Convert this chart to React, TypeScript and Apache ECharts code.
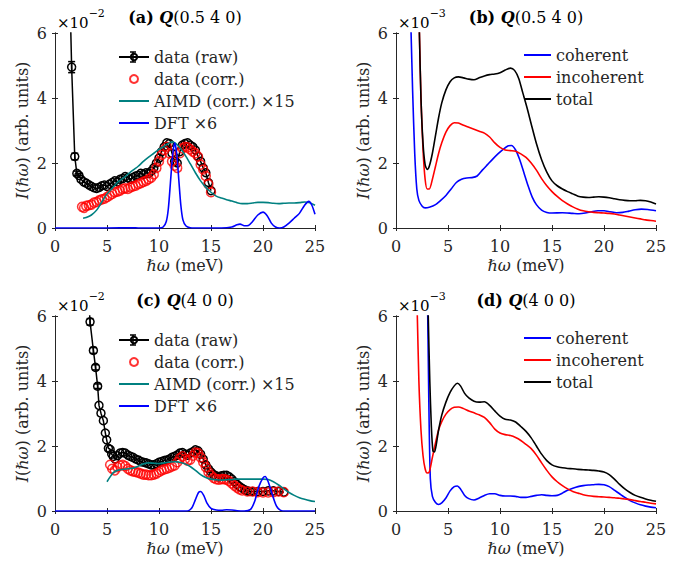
import React, { useEffect, useRef } from 'react';
import * as echarts from 'echarts';

type P = [number, number];

// ---------- Panel (a): Q(0.5 4 0), units x10^-2 ----------
const aRaw: P[] = [
  [1.3, 9.0], [1.6, 4.95], [1.9, 2.2], [2.1, 1.68], [2.3, 1.62], [2.5, 1.5], [2.75, 1.42], [3.0, 1.38],
  [3.25, 1.33], [3.5, 1.28], [3.75, 1.24], [4.0, 1.22], [4.25, 1.25], [4.5, 1.3], [4.75, 1.32], [5.0, 1.28],
  [5.25, 1.35], [5.5, 1.4], [5.75, 1.45], [6.0, 1.42], [6.25, 1.5], [6.5, 1.52], [6.75, 1.58], [7.0, 1.55],
  [7.25, 1.5], [7.5, 1.55], [7.75, 1.6], [8.0, 1.62], [8.25, 1.68], [8.5, 1.65], [8.75, 1.7], [9.0, 1.68],
  [9.25, 1.75], [9.5, 1.85], [9.75, 2.0], [10.0, 2.15], [10.25, 2.35], [10.5, 2.5], [10.75, 2.62], [11.0, 2.6],
  [11.25, 2.3], [11.5, 2.05], [11.75, 2.0], [12.0, 2.35], [12.25, 2.55], [12.5, 2.6], [12.75, 2.62], [13.0, 2.55],
  [13.25, 2.5], [13.5, 2.4], [13.75, 2.2], [14.0, 2.05], [14.25, 1.85], [14.5, 1.7], [14.75, 1.4], [15.0, 1.15],
];
const aRawErr = [0, 0.17, 0.1, 0.07, 0.06];
const aCorr: P[] = [
  [2.6, 0.65], [2.8, 0.62], [3.0, 0.68], [3.25, 0.7], [3.5, 0.72], [3.75, 0.78], [4.0, 0.8], [4.25, 0.85],
  [4.5, 0.88], [4.75, 0.9], [5.0, 0.95], [5.25, 1.0], [5.5, 1.05], [5.75, 1.1], [6.0, 1.12], [6.25, 1.15],
  [6.5, 1.2], [6.75, 1.22], [7.0, 1.2], [7.25, 1.25], [7.5, 1.28], [7.75, 1.3], [8.0, 1.35], [8.25, 1.38],
  [8.5, 1.42], [8.75, 1.45], [9.0, 1.5], [9.25, 1.55], [9.5, 1.65], [9.75, 1.85], [10.0, 2.05], [10.25, 2.25],
  [10.5, 2.4], [10.75, 2.5], [11.0, 2.3], [11.25, 2.05], [11.5, 1.92], [11.75, 1.85], [12.0, 2.3], [12.25, 2.45],
  [12.5, 2.5], [12.75, 2.48], [13.0, 2.42], [13.25, 2.35], [13.5, 2.3], [13.75, 2.2], [14.0, 1.95], [14.25, 1.8],
  [14.5, 1.6], [14.75, 1.35], [15.0, 1.1],
];
const aAimd: P[] = [
  [2.7, 0.3], [3.0, 0.32], [3.5, 0.4], [4.0, 0.55], [4.5, 0.8], [5.0, 1.05], [5.5, 1.22], [6.0, 1.4],
  [6.5, 1.52], [7.0, 1.65], [7.5, 1.78], [8.0, 1.9], [8.5, 2.05], [9.0, 2.18], [9.5, 2.3], [10.0, 2.42],
  [10.5, 2.52], [11.0, 2.62], [11.3, 2.65], [11.6, 2.6], [12.0, 2.48], [12.5, 2.25], [13.0, 1.98], [13.5, 1.7],
  [14.0, 1.45], [14.5, 1.25], [15.0, 1.1], [15.5, 0.98], [16.0, 0.92], [16.5, 0.87], [17.0, 0.83], [17.5, 0.78],
  [18.0, 0.75], [18.5, 0.75], [19.0, 0.77], [19.5, 0.79], [20.0, 0.79], [20.5, 0.78], [21.0, 0.76], [21.5, 0.75],
  [22.0, 0.76], [22.5, 0.77], [23.0, 0.77], [23.5, 0.78], [24.0, 0.8], [24.5, 0.78], [25.0, 0.7],
];
const aDft: P[] = [
  [0, 0], [5, 0], [7.5, 0.01], [8, 0], [10, 0], [10.4, 0.03], [10.7, 0.2], [10.9, 0.6], [11.1, 1.4],
  [11.3, 2.2], [11.5, 2.62], [11.7, 2.3], [11.9, 1.5], [12.1, 0.7], [12.3, 0.25], [12.6, 0.06], [13, 0.01],
  [14, 0], [16, 0], [17, 0.03], [17.5, 0.1], [17.8, 0.12], [18.2, 0.07], [18.6, 0.08], [19.0, 0.2],
  [19.5, 0.4], [20.0, 0.49], [20.4, 0.38], [20.8, 0.15], [21.2, 0.03], [21.6, 0.0], [22.0, 0.03], [22.5, 0.15],
  [23.0, 0.3], [23.5, 0.45], [24.0, 0.7], [24.4, 0.82], [24.7, 0.7], [25.0, 0.42],
];

// ---------- Panel (b): Q(0.5 4 0), units x10^-3 ----------
const bCoh: P[] = [
  [1.35, 7.0], [1.45, 6.0], [1.6, 4.2], [1.8, 2.3], [2.0, 1.2], [2.2, 0.85], [2.5, 0.68], [2.8, 0.62],
  [3.2, 0.64], [3.8, 0.72], [4.3, 0.85], [4.8, 1.0], [5.3, 1.2], [5.8, 1.4], [6.3, 1.5], [6.8, 1.54],
  [7.3, 1.55], [7.8, 1.6], [8.3, 1.78], [8.8, 1.95], [9.3, 2.12], [9.8, 2.28], [10.3, 2.42], [10.8, 2.53],
  [11.1, 2.54], [11.5, 2.4], [11.9, 2.1], [12.3, 1.7], [12.7, 1.3], [13.1, 0.95], [13.5, 0.72], [14.0, 0.55],
  [14.5, 0.48], [15.0, 0.46], [16.0, 0.47], [17.0, 0.45], [17.6, 0.44], [18.2, 0.46], [18.8, 0.5], [19.4, 0.53],
  [20.0, 0.53], [20.6, 0.5], [21.2, 0.47], [21.8, 0.48], [22.4, 0.52], [23.0, 0.56], [23.6, 0.58], [24.2, 0.57],
  [25.0, 0.53],
];
const bInc: P[] = [
  [2.15, 7.0], [2.25, 6.0], [2.4, 4.0], [2.6, 2.4], [2.8, 1.5], [3.0, 1.2], [3.2, 1.2], [3.5, 1.5],
  [3.8, 1.9], [4.1, 2.3], [4.4, 2.62], [4.8, 2.95], [5.2, 3.15], [5.6, 3.24], [6.0, 3.23], [6.5, 3.16],
  [7.0, 3.1], [7.5, 3.04], [8.0, 2.98], [8.5, 2.92], [9.0, 2.8], [9.5, 2.62], [10.0, 2.48], [10.5, 2.4],
  [11.0, 2.38], [11.5, 2.36], [12.0, 2.28], [12.5, 2.17], [13.0, 2.0], [13.5, 1.78], [14.0, 1.52], [14.5, 1.3],
  [15.0, 1.12], [15.5, 0.97], [16.0, 0.84], [16.5, 0.74], [17.0, 0.65], [17.5, 0.58], [18.0, 0.53], [18.5, 0.5],
  [19.0, 0.48], [19.5, 0.47], [20.0, 0.46], [20.5, 0.45], [21.0, 0.43], [21.5, 0.4], [22.0, 0.37], [22.5, 0.34],
  [23.0, 0.31], [23.5, 0.28], [24.0, 0.25], [24.5, 0.23], [25.0, 0.21],
];
const bTot: P[] = [
  [2.15, 8.0], [2.25, 6.0], [2.4, 4.0], [2.6, 2.6], [2.8, 1.95], [3.0, 1.8], [3.2, 1.9], [3.5, 2.3],
  [3.8, 2.85], [4.1, 3.4], [4.4, 3.85], [4.8, 4.25], [5.2, 4.5], [5.6, 4.62], [6.0, 4.65], [6.5, 4.62],
  [7.0, 4.58], [7.5, 4.56], [8.0, 4.62], [8.5, 4.68], [9.0, 4.72], [9.5, 4.74], [10.0, 4.78], [10.5, 4.86],
  [11.0, 4.92], [11.4, 4.85], [11.8, 4.6], [12.2, 4.15], [12.6, 3.7], [13.0, 3.2], [13.5, 2.6], [14.0, 2.1],
  [14.5, 1.72], [15.0, 1.45], [15.5, 1.3], [16.0, 1.2], [16.5, 1.12], [17.0, 1.05], [17.5, 0.98], [18.0, 0.95],
  [18.5, 0.94], [19.0, 0.95], [19.5, 0.96], [20.0, 0.95], [20.5, 0.93], [21.0, 0.9], [21.5, 0.87], [22.0, 0.85],
  [22.5, 0.84], [23.0, 0.84], [23.5, 0.85], [24.0, 0.84], [24.5, 0.8], [25.0, 0.74],
];

// ---------- Panel (c): Q(4 0 0), units x10^-2 ----------
const cRaw: P[] = [
  [3.2, 6.8], [3.37, 5.82], [3.69, 4.94], [3.9, 4.42], [4.1, 3.84], [4.23, 3.25], [4.42, 3.01], [4.65, 2.78],
  [4.84, 2.4], [4.97, 2.19], [5.13, 1.93], [5.3, 1.9], [5.45, 1.75], [5.6, 1.68], [5.77, 1.6], [6.0, 1.7],
  [6.25, 1.78], [6.5, 1.8], [6.75, 1.78], [7.0, 1.72], [7.25, 1.68], [7.5, 1.65], [7.75, 1.6], [8.0, 1.57],
  [8.25, 1.52], [8.5, 1.5], [8.75, 1.48], [9.0, 1.45], [9.25, 1.42], [9.5, 1.42], [9.75, 1.45], [10.0, 1.5],
  [10.25, 1.52], [10.5, 1.55], [10.75, 1.57], [11.0, 1.6], [11.25, 1.65], [11.5, 1.68], [11.75, 1.72], [12.0, 1.78],
  [12.25, 1.8], [12.5, 1.75], [12.75, 1.72], [13.0, 1.78], [13.25, 1.82], [13.5, 1.88], [13.75, 1.85], [14.0, 1.75],
  [14.25, 1.6], [14.5, 1.42], [14.75, 1.3], [15.0, 1.2], [15.25, 1.12], [15.5, 1.08], [15.75, 1.05], [16.0, 1.08],
  [16.25, 1.1], [16.5, 1.1], [16.75, 1.05], [17.0, 0.98], [17.25, 0.9], [17.5, 0.82], [17.75, 0.75], [18.0, 0.7],
  [18.25, 0.65], [18.5, 0.62], [18.75, 0.6], [19.0, 0.6], [19.5, 0.6], [20.0, 0.6], [20.5, 0.62], [21.0, 0.62],
  [21.5, 0.6], [22.0, 0.58],
];
const cRawErr = [0, 0.1, 0.09, 0.08, 0.07];
const cCorr: P[] = [
  [5.3, 1.42], [5.5, 1.3], [5.75, 1.25], [6.0, 1.35], [6.25, 1.4], [6.5, 1.42], [6.75, 1.38], [7.0, 1.3],
  [7.25, 1.25], [7.5, 1.22], [7.75, 1.2], [8.0, 1.18], [8.25, 1.15], [8.5, 1.12], [8.75, 1.12], [9.0, 1.1],
  [9.25, 1.1], [9.5, 1.12], [9.75, 1.15], [10.0, 1.2], [10.25, 1.25], [10.5, 1.28], [10.75, 1.3], [11.0, 1.33],
  [11.25, 1.37], [11.5, 1.4], [11.75, 1.5], [12.0, 1.62], [12.25, 1.68], [12.5, 1.6], [12.75, 1.55], [13.0, 1.58],
  [13.25, 1.7], [13.5, 1.8], [13.75, 1.78], [14.0, 1.65], [14.25, 1.5], [14.5, 1.35], [14.75, 1.2], [15.0, 1.1],
  [15.25, 1.02], [15.5, 0.98], [15.75, 0.96], [16.0, 0.98], [16.25, 0.98], [16.5, 0.96], [16.75, 0.92], [17.0, 0.85],
  [17.25, 0.78], [17.5, 0.72], [17.75, 0.66], [18.0, 0.63], [18.5, 0.6], [19.0, 0.6], [19.5, 0.58], [20.0, 0.57],
  [20.5, 0.57], [21.0, 0.58], [21.5, 0.6], [22.0, 0.58],
];
const cAimd: P[] = [
  [5.0, 0.9], [5.3, 1.05], [5.6, 1.18], [6.0, 1.25], [6.5, 1.28], [7.0, 1.3], [7.5, 1.32], [8.0, 1.38],
  [8.5, 1.45], [9.0, 1.48], [9.5, 1.47], [10.0, 1.46], [10.5, 1.48], [11.0, 1.5], [11.5, 1.52], [12.0, 1.5],
  [12.5, 1.45], [13.0, 1.37], [13.5, 1.25], [14.0, 1.12], [14.5, 1.03], [15.0, 0.98], [15.5, 0.96], [16.0, 0.95],
  [16.5, 0.96], [17.0, 0.97], [17.5, 0.98], [18.0, 0.98], [18.5, 0.98], [19.0, 0.98], [19.5, 0.98], [20.0, 0.98],
  [20.5, 0.97], [21.0, 0.9], [21.5, 0.8], [22.0, 0.68], [22.5, 0.57], [23.0, 0.48], [23.5, 0.41], [24.0, 0.36],
  [24.5, 0.32], [25.0, 0.29],
];
const cDft: P[] = [
  [0, 0], [12.5, 0], [12.9, 0.02], [13.2, 0.12], [13.5, 0.35], [13.8, 0.57], [14.0, 0.6], [14.3, 0.48],
  [14.6, 0.25], [15.0, 0.08], [15.5, 0.03], [16.0, 0.02], [16.5, 0.04], [17.0, 0.03], [17.5, 0.01], [18.2, 0.0],
  [18.8, 0.05], [19.2, 0.3], [19.6, 0.75], [20.0, 1.02], [20.2, 1.06], [20.5, 0.9], [20.9, 0.5], [21.3, 0.15],
  [21.7, 0.02], [22.2, 0], [25, 0],
];

// ---------- Panel (d): Q(4 0 0), units x10^-3 ----------
const dCoh: P[] = [
  [2.95, 7.0], [3.05, 6.0], [3.15, 3.5], [3.3, 1.0], [3.5, 0.45], [3.8, 0.26], [4.1, 0.2], [4.4, 0.25],
  [4.8, 0.4], [5.2, 0.62], [5.6, 0.75], [5.9, 0.77], [6.2, 0.68], [6.6, 0.48], [7.0, 0.38], [7.5, 0.34],
  [8.0, 0.4], [8.5, 0.48], [9.0, 0.53], [9.5, 0.53], [10.0, 0.48], [10.5, 0.46], [11.0, 0.46], [11.5, 0.45],
  [12.0, 0.42], [12.5, 0.42], [13.0, 0.45], [13.5, 0.48], [14.0, 0.5], [14.5, 0.48], [15.0, 0.47], [15.5, 0.48],
  [16.0, 0.55], [16.5, 0.64], [17.0, 0.7], [17.5, 0.75], [18.0, 0.78], [18.5, 0.8], [19.0, 0.81], [19.5, 0.82],
  [20.0, 0.81], [20.5, 0.75], [21.0, 0.64], [21.5, 0.53], [22.0, 0.42], [22.5, 0.32], [23.0, 0.25], [23.5, 0.19],
  [24.0, 0.15], [24.5, 0.12], [25.0, 0.1],
];
const dInc: P[] = [
  [1.95, 7.0], [2.05, 6.0], [2.2, 4.0], [2.4, 2.5], [2.6, 1.7], [2.8, 1.3], [3.0, 1.17], [3.2, 1.2],
  [3.5, 1.65], [3.8, 2.1], [4.1, 2.5], [4.4, 2.75], [4.8, 2.98], [5.2, 3.12], [5.6, 3.19], [6.0, 3.2],
  [6.5, 3.15], [7.0, 3.08], [7.5, 3.02], [8.0, 2.96], [8.5, 2.88], [9.0, 2.72], [9.5, 2.52], [10.0, 2.4],
  [10.5, 2.35], [11.0, 2.32], [11.5, 2.26], [12.0, 2.17], [12.5, 2.05], [13.0, 1.92], [13.5, 1.72], [14.0, 1.48],
  [14.5, 1.25], [15.0, 1.05], [15.5, 0.9], [16.0, 0.78], [16.5, 0.68], [17.0, 0.6], [17.5, 0.55], [18.0, 0.5],
  [18.5, 0.47], [19.0, 0.45], [19.5, 0.44], [20.0, 0.43], [20.5, 0.42], [21.0, 0.41], [21.5, 0.39], [22.0, 0.37],
  [22.5, 0.35], [23.0, 0.32], [23.5, 0.29], [24.0, 0.27], [24.5, 0.24], [25.0, 0.22],
];
const dTot: P[] = [
  [3.0, 7.5], [3.1, 6.0], [3.25, 4.0], [3.4, 2.6], [3.55, 1.85], [3.7, 1.82], [3.9, 2.1], [4.1, 2.5],
  [4.4, 2.95], [4.8, 3.35], [5.2, 3.65], [5.6, 3.85], [5.9, 3.93], [6.2, 3.85], [6.6, 3.62], [7.0, 3.48],
  [7.5, 3.38], [8.0, 3.35], [8.5, 3.36], [9.0, 3.25], [9.5, 3.08], [10.0, 2.92], [10.5, 2.82], [11.0, 2.8],
  [11.5, 2.74], [12.0, 2.6], [12.5, 2.45], [13.0, 2.25], [13.5, 2.0], [14.0, 1.75], [14.5, 1.55], [15.0, 1.42],
  [15.5, 1.36], [16.0, 1.33], [16.5, 1.31], [17.0, 1.3], [17.5, 1.28], [18.0, 1.27], [18.5, 1.26], [19.0, 1.25],
  [19.5, 1.23], [20.0, 1.2], [20.5, 1.12], [21.0, 0.98], [21.5, 0.82], [22.0, 0.68], [22.5, 0.57], [23.0, 0.48],
  [23.5, 0.42], [24.0, 0.37], [24.5, 0.33], [25.0, 0.3],
];

const titles = [
  ['(a) ', '(0.5 4 0)'],
  ['(b) ', '(0.5 4 0)'],
  ['(c) ', '(4 0 0)'],
  ['(d) ', '(4 0 0)'],
];
const exponents = ['−2', '−3', '−2', '−3'];
const legendExp = ['data (raw)', 'data (corr.)', 'AIMD (corr.) ×15', 'DFT ×6'];
const legendSim = ['coherent', 'incoherent', 'total'];

const FONT = 'DejaVu Serif';
const TXT = '#262626';
const FS = 16;

const rich = {
  n: { fontFamily: FONT, fontSize: FS, color: TXT },
  it: { fontFamily: FONT, fontSize: FS, color: TXT, fontStyle: 'italic' },
  b: { fontFamily: FONT, fontSize: FS, color: TXT, fontWeight: 'bold' },
  bi: { fontFamily: FONT, fontSize: FS, color: TXT, fontWeight: 'bold', fontStyle: 'italic' },
  base: { fontFamily: FONT, fontSize: 15, color: TXT, lineHeight: 22, verticalAlign: 'bottom' },
  sup: { fontFamily: FONT, fontSize: 11, color: TXT, lineHeight: 22, verticalAlign: 'top' },
};

const grids = [
  { left: 55, top: 33 },
  { left: 396, top: 33 },
  { left: 55, top: 316 },
  { left: 396, top: 316 },
];
const GW = 260;
const GH = 195;

function buildOption() {
  const xAxis: any[] = [];
  const yAxis: any[] = [];
  grids.forEach((_, i) => {
    const common = {
      gridIndex: i,
      type: 'value',
      min: 0,
      axisLine: { show: true, lineStyle: { color: TXT, width: 1 } },
      axisTick: { show: true, inside: true, length: 3, lineStyle: { color: TXT } },
      splitLine: { show: false },
    };
    xAxis.push({
      ...common,
      max: 25,
      interval: 5,
      position: 'bottom',
      axisLabel: { show: true, color: TXT, fontFamily: FONT, fontSize: FS, margin: 10 },
      name: '{it|ℏω}{n| (meV)}',
      nameLocation: 'middle',
      nameGap: 29,
      nameTextStyle: { fontFamily: FONT, fontSize: FS, color: TXT, rich },
    });
    xAxis.push({ ...common, max: 25, interval: 5, position: 'top', axisLabel: { show: false } });
    yAxis.push({
      ...common,
      max: 6,
      interval: 2,
      position: 'left',
      axisLabel: { show: true, color: TXT, fontFamily: FONT, fontSize: FS, margin: 8 },
      name: '{it|I}{n|(}{it|ℏω}{n|) (arb. units)}',
      nameLocation: 'middle',
      nameRotate: 90,
      nameGap: 25,
      nameTextStyle: { fontFamily: FONT, fontSize: FS, color: TXT, rich },
    });
    yAxis.push({ ...common, max: 6, interval: 2, position: 'right', axisLabel: { show: false } });
  });

  const line = (name: string, data: P[], color: string, gi: number, z = 3) => ({
    type: 'line',
    name,
    xAxisIndex: gi * 2,
    yAxisIndex: gi * 2,
    data,
    symbol: 'none',
    smooth: 0.25,
    clip: true,
    lineStyle: { color, width: 1.6 },
    itemStyle: { color },
    z,
  });
  const raw = (data: P[], gi: number) => ({
    type: 'line',
    name: 'data (raw)',
    xAxisIndex: gi * 2,
    yAxisIndex: gi * 2,
    data,
    symbol: 'circle',
    symbolSize: 8,
    showSymbol: true,
    clip: true,
    lineStyle: { color: '#000', width: 1.5 },
    itemStyle: { color: 'rgba(0,0,0,0)', borderColor: '#000', borderWidth: 1.5 },
    z: 2,
  });
  const corr = (data: P[], gi: number) => ({
    type: 'scatter',
    name: 'data (corr.)',
    xAxisIndex: gi * 2,
    yAxisIndex: gi * 2,
    data,
    symbol: 'circle',
    symbolSize: 9,
    clip: true,
    itemStyle: { color: 'rgba(0,0,0,0)', borderColor: '#ff0000', borderWidth: 1.5 },
    z: 2,
  });
  const errs = (data: P[], err: number[], gi: number) => ({
    type: 'custom',
    xAxisIndex: gi * 2,
    yAxisIndex: gi * 2,
    clip: true,
    z: 2,
    data: data.slice(0, err.length).map((p, k) => [p[0], p[1], err[k]]),
    renderItem: (_p: any, api: any) => {
      const x = api.value(0);
      const y = api.value(1);
      const e = api.value(2);
      const t = api.coord([x, y + e]);
      const b = api.coord([x, y - e]);
      const h = 3.5;
      const st = { stroke: '#000', lineWidth: 1.5 };
      return {
        type: 'group',
        children: [
          { type: 'line', shape: { x1: t[0], y1: t[1], x2: b[0], y2: b[1] }, style: st },
          { type: 'line', shape: { x1: t[0] - h, y1: t[1], x2: t[0] + h, y2: t[1] }, style: st },
          { type: 'line', shape: { x1: b[0] - h, y1: b[1], x2: b[0] + h, y2: b[1] }, style: st },
        ],
      };
    },
  });

  const series: any[] = [
    raw(aRaw, 0), errs(aRaw, aRawErr, 0), corr(aCorr, 0),
    line('AIMD (corr.) ×15', aAimd, '#008080', 0, 4), line('DFT ×6', aDft, '#0000ff', 0, 5),
    line('coherent', bCoh, '#0000ff', 1), line('incoherent', bInc, '#ff0000', 1), line('total', bTot, '#000000', 1),
    raw(cRaw, 2), errs(cRaw, cRawErr, 2), corr(cCorr, 2),
    line('AIMD (corr.) ×15', cAimd, '#008080', 2, 4), line('DFT ×6', cDft, '#0000ff', 2, 5),
    line('coherent', dCoh, '#0000ff', 3), line('incoherent', dInc, '#ff0000', 3), line('total', dTot, '#000000', 3),
  ];

  const hide = { opacity: 0 };
  const expData = [
    { name: legendExp[0] },
    { name: legendExp[1] },
    { name: legendExp[2], itemStyle: hide },
    { name: legendExp[3], itemStyle: hide },
  ];
  const simData = legendSim.map((n) => ({ name: n, itemStyle: hide }));
  const LEG_A_LEFT = 118;
  const LEG_W = 30;
  const legendBase = {
    orient: 'vertical',
    itemWidth: LEG_W,
    itemHeight: 8,
    itemGap: 6,
    padding: 0,
    selectedMode: false,
    textStyle: { fontFamily: FONT, fontSize: FS, color: TXT },
  };
  const legend = [
    { ...legendBase, left: LEG_A_LEFT, top: 49, data: expData },
    { ...legendBase, left: 523, top: 47, itemWidth: 27, data: simData },
    { ...legendBase, left: LEG_A_LEFT, top: 332, data: expData },
    { ...legendBase, left: 523, top: 330, itemWidth: 27, data: simData },
  ];

  const graphic: any[] = [];
  grids.forEach((g, i) => {
    graphic.push({
      type: 'text',
      x: g.left + GW / 2,
      y: g.top - 16,
      style: {
        text: `{b|${titles[i][0]}}{bi|Q}{n|${titles[i][1]}}`,
        fontFamily: FONT,
        fontSize: FS,
        rich,
        align: 'center',
        verticalAlign: 'middle',
      },
    });
    graphic.push({
      type: 'text',
      x: g.left + 2,
      y: g.top - 3,
      style: {
        text: `{base|×10}{sup|${exponents[i]}}`,
        fontFamily: FONT,
        fontSize: 15,
        rich,
        align: 'left',
        verticalAlign: 'bottom',
      },
    });
  });
  // error-bar glyph of the "data (raw)" legend key
  [57, 340].forEach((cy) => {
    const cx = LEG_A_LEFT + LEG_W / 2;
    const st = { stroke: '#000', lineWidth: 1.5 };
    graphic.push({ type: 'line', shape: { x1: cx, y1: cy - 5, x2: cx, y2: cy + 5 }, style: st, z: 100 });
    graphic.push({ type: 'line', shape: { x1: cx - 3, y1: cy - 5, x2: cx + 3, y2: cy - 5 }, style: st, z: 100 });
    graphic.push({ type: 'line', shape: { x1: cx - 3, y1: cy + 5, x2: cx + 3, y2: cy + 5 }, style: st, z: 100 });
  });

  return {
    animation: false,
    backgroundColor: '#ffffff',
    textStyle: { fontFamily: FONT, fontSize: FS, color: TXT },
    grid: grids.map((g) => ({ left: g.left, top: g.top, width: GW, height: GH, containLabel: false })),
    xAxis,
    yAxis,
    legend,
    series,
    graphic,
  };
}

export default function App() {
  const ref = useRef<HTMLDivElement>(null);
  useEffect(() => {
    if (!ref.current) return;
    const chart = echarts.init(ref.current, undefined, { renderer: 'svg' });
    chart.setOption(buildOption() as any);
    return () => chart.dispose();
  }, []);
  return (
    <div
      ref={ref}
      style={{ position: 'fixed', left: 0, top: 0, width: 689, height: 566, background: '#fff' }}
    />
  );
}
